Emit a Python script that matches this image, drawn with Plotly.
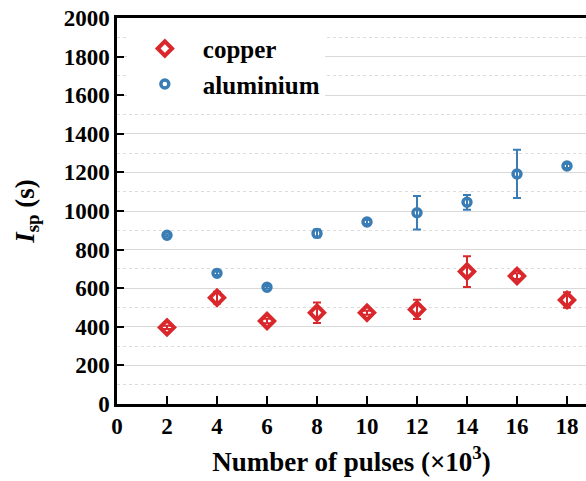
import plotly.graph_objects as go

pulses = [2, 4, 6, 8, 10, 12, 14, 16, 18]
copper = [397, 551, 430, 473, 473, 490, 686, 663, 539]
copper_err = [8, 30, 12, 53, 10, 50, 80, 15, 40]
aluminium = [874, 677, 605, 884, 943, 991, 1045, 1192, 1233]
aluminium_err = [6, 8, 6, 20, 10, 87, 38, 125, 10]
x_ticks = [0, 2, 4, 6, 8, 10, 12, 14, 16, 18]
y_ticks = list(range(0, 2001, 200))

RED = "#d9272c"
BLUE = "#3a7db5"
FONT = "Liberation Serif"

fig = go.Figure()
fig.add_trace(go.Scatter(
    x=pulses, y=copper, mode="markers", name="<b>copper</b>",
    marker=dict(symbol="diamond-open", size=11, color=RED, line=dict(width=4, color=RED)),
    error_y=dict(type="data", array=copper_err, color=RED, thickness=2, width=4),
))
fig.add_trace(go.Scatter(
    x=pulses, y=aluminium, mode="markers", name="<b>aluminium</b>",
    marker=dict(symbol="circle-open", size=8, color=BLUE, line=dict(width=3.4, color=BLUE)),
    error_y=dict(type="data", array=aluminium_err, color=BLUE, thickness=2, width=4),
))

fig.update_layout(
    width=586, height=481,
    margin=dict(l=117, r=0, t=18, b=77),
    paper_bgcolor="white", plot_bgcolor="white",
    font=dict(family=FONT, size=18, color="black"),
    showlegend=True,
    legend=dict(x=0.021, y=0.98, xanchor="left", yanchor="top",
                bgcolor="white", font=dict(family=FONT, size=25, color="black"),
                itemsizing="trace", itemwidth=66, tracegroupgap=0),
    xaxis=dict(
        range=[0, 18.76], tickvals=x_ticks,
        ticktext=["<b>%d</b>" % v for v in x_ticks],
        ticks="inside", ticklen=8, tickwidth=2, tickcolor="black",
        showline=True, linewidth=2.5, linecolor="black", mirror=True,
        showgrid=False, zeroline=False,
        tickfont=dict(family=FONT, size=23, color="black"),
        title=dict(text="<b>Number of pulses (×10<sup>3</sup>)</b>", standoff=14,
                   font=dict(family=FONT, size=27, color="black")),
    ),
    yaxis=dict(
        range=[0, 2000],
        tickvals=y_ticks,
        ticktext=["<b>%d</b>" % v for v in y_ticks],
        ticks="inside", ticklen=7, tickwidth=2, tickcolor="black",
        showline=True, linewidth=2.5, linecolor="black", mirror=False,
        showgrid=True, gridcolor="#d9d9d9", gridwidth=1, zeroline=False,
        minor=dict(dtick=100, showgrid=True, gridcolor="#dcdcdc", griddash="dot", gridwidth=1),
        tickfont=dict(family=FONT, size=23, color="black"),
        title=dict(text="<b><i>I</i><sub>sp</sub> (s)</b>", standoff=22,
                   font=dict(family=FONT, size=27, color="black")),
    ),
)

fig.write_html("out.html")
